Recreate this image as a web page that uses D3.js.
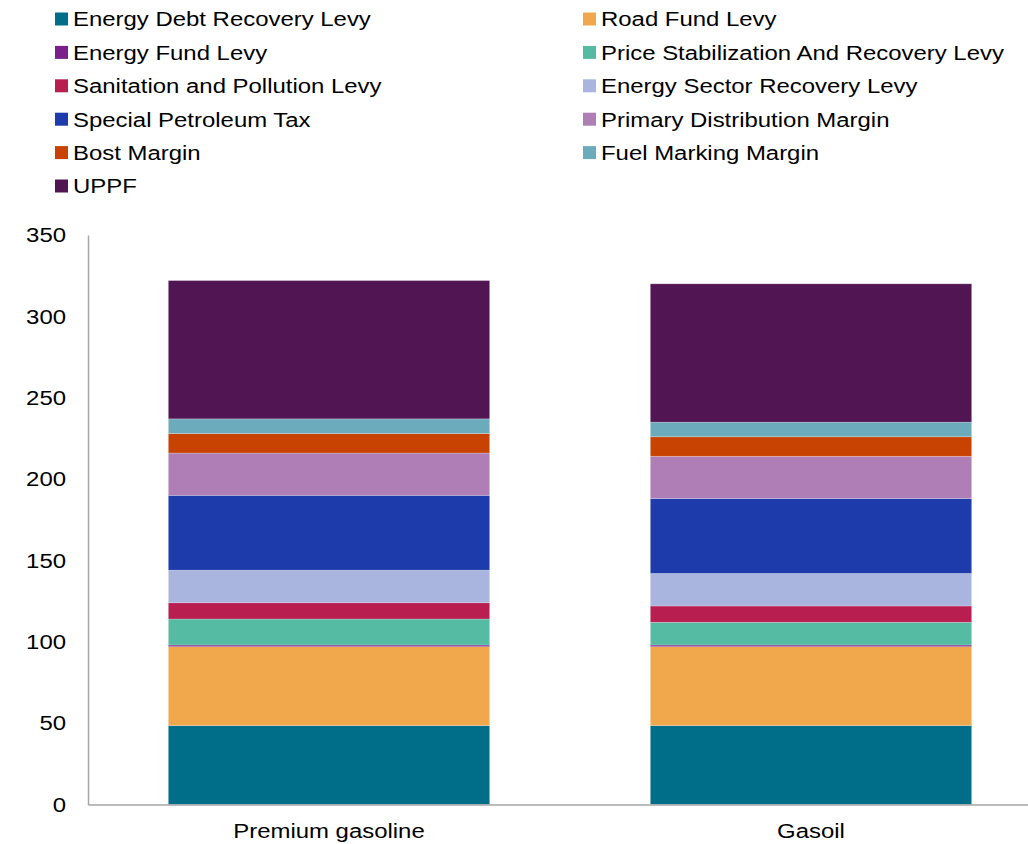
<!DOCTYPE html>
<html>
<head>
<meta charset="utf-8">
<script src="https://cdn.jsdelivr.net/npm/d3@7"></script>
<style>
  html, body { margin: 0; padding: 0; background: #fff; }
  svg { display: block; font-family: "Liberation Sans", Arial, sans-serif; }
</style>
</head>
<body>
<svg id="chart" width="1028" height="844"></svg>
<script>
const categories = ["Premium gasoline", "Gasoil"];
const seriesNames = [
  "Energy Debt Recovery Levy",
  "Road Fund Levy",
  "Energy Fund Levy",
  "Price Stabilization And Recovery Levy",
  "Sanitation and Pollution Levy",
  "Energy Sector Recovery Levy",
  "Special Petroleum Tax",
  "Primary Distribution Margin",
  "Bost Margin",
  "Fuel Marking Margin",
  "UPPF"
];
const seriesColors = [
  "#016E89", "#F1A74B", "#7B1F8D", "#55BBA2", "#B81F50",
  "#A9B5DF", "#1E3BAB", "#B07EB6", "#C84201", "#6CABBC", "#511554"
];
const premiumValues = [48.5, 48.5, 1, 16, 10, 20, 46, 26, 12, 9, 85];
const gasoilValues  = [48.5, 48.5, 1, 14, 10, 20, 46, 26, 12, 9, 85];
const yTicks = [0, 50, 100, 150, 200, 250, 300, 350];
const legendLeft = ["Energy Debt Recovery Levy", "Energy Fund Levy", "Sanitation and Pollution Levy", "Special Petroleum Tax", "Bost Margin", "UPPF"];
const legendRight = ["Road Fund Levy", "Price Stabilization And Recovery Levy", "Energy Sector Recovery Levy", "Primary Distribution Margin", "Fuel Marking Margin"];

const STRETCH = 1.14;
const svg = d3.select("#chart");
const color = d3.scaleOrdinal().domain(seriesNames).range(seriesColors);

const table = categories.map((c, i) => {
  const vals = i === 0 ? premiumValues : gasoilValues;
  const row = { category: c };
  seriesNames.forEach((s, j) => row[s] = vals[j]);
  return row;
});
const stacked = d3.stack().keys(seriesNames)(table);

const x = d3.scaleBand().domain(categories).range([88, 1052]).paddingInner(1/3).paddingOuter(1/6);
const y = d3.scaleLinear().domain([0, 350]).range([804.5, 235]);

// bars
svg.append("g").selectAll("g").data(stacked).join("g")
  .attr("fill", d => color(d.key))
  .selectAll("rect").data(d => d).join("rect")
  .attr("x", d => x(d.data.category))
  .attr("width", x.bandwidth())
  .attr("y", d => y(d[1]))
  .attr("height", d => y(d[0]) - y(d[1]))
  .attr("stroke", "rgba(255,255,255,0.3)")
  .attr("stroke-width", 0.75);

// y axis
const yAxis = svg.append("g").attr("transform", "translate(88,0)")
  .call(d3.axisLeft(y).tickValues(yTicks).tickSize(0).tickPadding(22));
yAxis.select(".domain").attr("stroke", "#A6A6A6").attr("stroke-width", 1.5);
yAxis.selectAll("text").attr("font-size", 21).attr("fill", "#000")
  .attr("font-family", "Liberation Sans, Arial, sans-serif")
  .attr("x", -22 / STRETCH)
  .attr("transform", `scale(${STRETCH},1)`);

// x axis
const xAxis = svg.append("g").attr("transform", "translate(0,804.5)")
  .call(d3.axisBottom(x).tickSize(0).tickPadding(19));
xAxis.select(".domain").attr("stroke", "#A6A6A6").attr("stroke-width", 1.5);
xAxis.selectAll("text").attr("font-size", 21).attr("fill", "#000")
  .attr("font-family", "Liberation Sans, Arial, sans-serif")
  .attr("transform", `scale(${STRETCH},1)`);

// legend
function drawLegend(items, xSq, xText) {
  const g = svg.append("g");
  const rows = g.selectAll("g").data(items).join("g")
    .attr("transform", (d, i) => `translate(0, ${19 + i * 33.4})`);
  rows.append("rect").attr("x", xSq).attr("y", -6.5).attr("width", 13).attr("height", 13)
    .attr("fill", d => color(d));
  rows.append("text")
    .attr("transform", `translate(${xText},0) scale(${STRETCH},1)`)
    .attr("dy", "0.35em")
    .attr("font-size", 21).attr("fill", "#000").text(d => d);
}
drawLegend(legendLeft, 55, 73);
drawLegend(legendRight, 583, 601);
</script>
</body>
</html>
